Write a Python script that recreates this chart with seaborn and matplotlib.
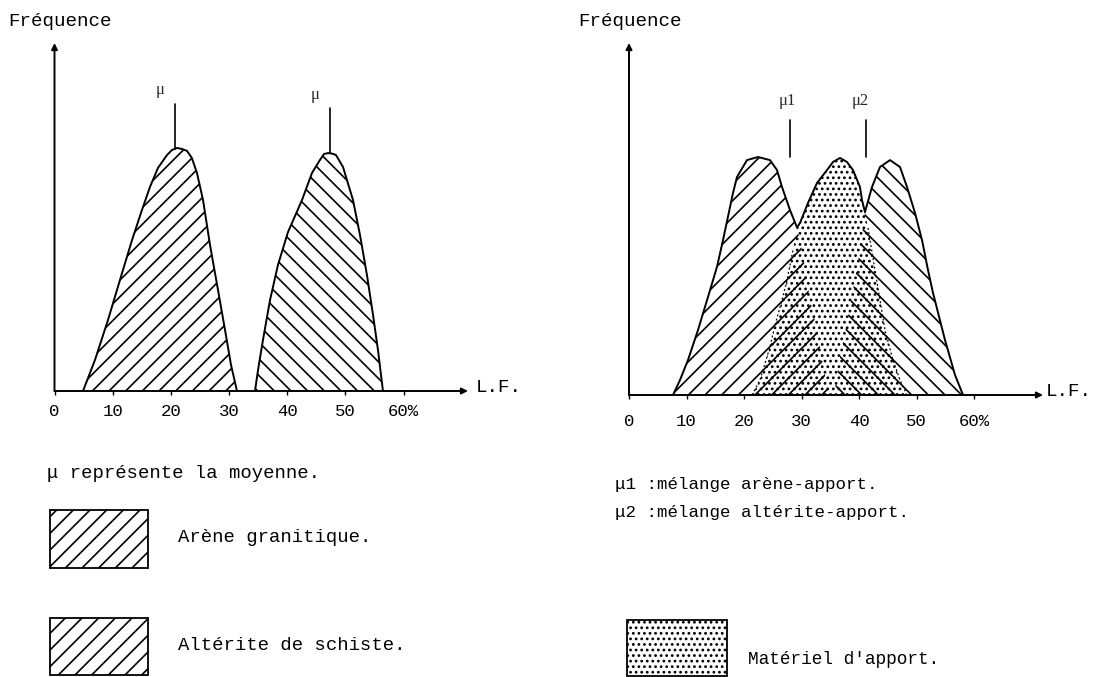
import numpy as np
import matplotlib
matplotlib.use("Agg")
import matplotlib.pyplot as plt
from matplotlib.patches import Rectangle
import seaborn as sns

# ---------------------------------------------------------------------------
# Left diagram: two distinct populations (L.F. in %, relative frequency)
# ---------------------------------------------------------------------------
arene_lf = [4.9, 6.96, 9.19, 11.25, 13.32, 15.03, 16.41, 17.78, 19.33, 20.2,
            21.05, 21.9, 22.77, 23.6, 24.48, 25.52, 26.72, 28.09, 29.30,
            30.33, 31.36]
arene_freq = [0, 12.8, 29.2, 45.7, 62.1, 74.5, 84.0, 91.8, 97.1, 99.2,
              100.0, 99.6, 98.8, 95.9, 89.7, 78.6, 60.1, 41.6, 25.1,
              10.7, 0]

schiste_lf = [34.45, 34.97, 35.82, 37.03, 38.40, 40.12, 42.53, 44.24, 45.62,
              46.3, 46.99, 47.7, 48.37, 49.57, 51.29, 52.49, 53.69, 54.73,
              55.58, 56.10, 56.44]
schiste_freq = [0, 8.6, 21.0, 37.4, 51.9, 65.4, 78.6, 89.7, 95.1,
                97.5, 97.9, 97.7, 97.1, 92.2, 78.6, 64.2, 47.7, 31.3,
                16.9, 6.6, 0]

# means marked above each curve
mu_left = [20.7, 47.3]

# ---------------------------------------------------------------------------
# Right diagram: both populations plus the imported material in between
# ---------------------------------------------------------------------------
arene2_lf = [7.65, 8.87, 10.26, 12.0, 13.74, 15.3, 16.35, 18.09, 18.78, 20.52,
             22.43, 24.52, 25.74, 26.61, 28.0, 29.22, 30.26, 31.48, 32.7,
             33.57, 34.43, 34.96]
arene2_freq = [0, 6.3, 14.7, 27.3, 41.2, 53.8, 65.1, 84.9, 91.6, 98.7,
               100.0, 98.7, 94.5, 87.4, 77.7, 70.4, 58.8, 39.9, 27.3,
               14.7, 4.2, 0]

schiste2_lf = [35.65, 36.7, 37.9, 38.96, 40.17, 41.04, 42.26, 43.65, 45.39,
               47.13, 48.35, 49.74, 50.96, 52.0, 52.87, 54.96, 56.7, 58.09]
schiste2_freq = [0, 16.0, 30.3, 44.1, 60.9, 76.9, 87.4, 95.8, 98.7,
                 95.8, 87.4, 76.5, 65.1, 52.5, 42.9, 23.1, 8.4, 0]

apport_lf = [21.39, 22.78, 24.52, 25.39, 26.61, 27.48, 28.52, 29.22, 29.74,
             31.13, 32.7, 34.43, 35.48, 36.7, 37.91, 38.96, 40.17, 40.52,
             41.04, 41.57, 42.78, 43.65, 44.52, 45.91, 47.13, 48.35]
apport_freq = [0, 6.3, 20.2, 29.4, 39.9, 48.3, 60.9, 70.4, 72.3,
               80.7, 89.1, 94.5, 97.9, 99.6, 97.9, 94.5, 87.4, 81.9,
               76.9, 70.2, 52.5, 39.9, 27.3, 14.7, 6.3, 0]

# mixture means
mu_right = [28.0, 41.2]

tick_values = [0, 10, 20, 30, 40, 50, 60]
tick_labels = ["0", "10", "20", "30", "40", "50", "60%"]

# ---------------------------------------------------------------------------
sns.set_theme(style="white")
plt.rcParams["font.family"] = ["Liberation Mono", "DejaVu Sans"]
plt.rcParams["hatch.linewidth"] = 1.2
plt.rcParams["hatch.color"] = "black"

W, H = 1093, 677
fig = plt.figure(figsize=(W / 100, H / 100), dpi=100)
fig.patch.set_facecolor("white")


def px_rect(x0, y0, x1, y1):
    """Pixel box (top-left origin) -> figure-fraction rect."""
    return [x0 / W, 1 - y1 / H, (x1 - x0) / W, (y1 - y0) / H]


def ftext(x, y, s, **kw):
    kw.setdefault("va", "center")
    kw.setdefault("ha", "left")
    kw.setdefault("color", "black")
    fig.text(x / W, 1 - y / H, s, **kw)


def setup_axes(ax, xmax, ymax, pad):
    ax.set_xlim(0, xmax)
    ax.set_ylim(0, ymax)
    ax.patch.set_alpha(0)
    for s in ax.spines.values():
        s.set_visible(False)
    ax.set_yticks([])
    ax.set_xticks(tick_values, tick_labels)
    ax.tick_params(axis="x", length=3, width=1.0, color="black", pad=pad,
                   labelsize=12.5, labelcolor="black", bottom=True)
    arrow = dict(arrowstyle="-|>", lw=1.4, color="black", mutation_scale=9,
                 shrinkA=0, shrinkB=0)
    ax.annotate("", xy=(xmax, 0), xytext=(0, 0), arrowprops=arrow,
                annotation_clip=False)
    ax.annotate("", xy=(0, ymax), xytext=(0, 0), arrowprops=arrow,
                annotation_clip=False)


def hatched(ax, x, y, pattern):
    ax.fill_between(x, 0, y, facecolor="none", edgecolor="black",
                    hatch=pattern, linewidth=0)


# ---------------------------- left diagram ---------------------------------
axL = fig.add_axes(px_rect(54.5, 43, 468, 391))
setup_axes(axL, 71.05, 143.2, pad=6)

hatched(axL, arene_lf, arene_freq, "//")
hatched(axL, schiste_lf, schiste_freq, "\\\\")
sns.lineplot(x=arene_lf, y=arene_freq, ax=axL, color="black", lw=1.4,
             sort=False, estimator=None)
sns.lineplot(x=schiste_lf, y=schiste_freq, ax=axL, color="black", lw=1.4,
             sort=False, estimator=None)

for m, xs, ys in [(mu_left[0], arene_lf, arene_freq),
                  (mu_left[1], schiste_lf, schiste_freq)]:
    top = np.interp(m, xs, ys)
    axL.plot([m, m], [top, top + 18.5], color="black", lw=1.2)
    axL.text(m - 2.5, top + 24, "μ", ha="center", va="center", fontsize=12,
             family=["Liberation Serif", "DejaVu Serif"])

# ---------------------------- right diagram --------------------------------
axR = fig.add_axes(px_rect(629, 43, 1043, 395))
setup_axes(axR, 72.0, 147.9, pad=11)

hatched(axR, arene2_lf, arene2_freq, "//")
hatched(axR, schiste2_lf, schiste2_freq, "\\\\")
hatched(axR, apport_lf, apport_freq, "...")

a_x, a_y = np.array(arene2_lf), np.array(arene2_freq)
s_x, s_y = np.array(schiste2_lf), np.array(schiste2_freq)
p_x, p_y = np.array(apport_lf), np.array(apport_freq)

# outlines are only drawn where a curve lies on top of the others
tol = 0.6
a_vis = a_y >= np.interp(a_x, p_x, p_y, left=0, right=0) - tol
s_vis = s_y >= np.interp(s_x, p_x, p_y, left=0, right=0) - tol
p_vis = p_y >= np.maximum(np.interp(p_x, a_x, a_y, left=0, right=0),
                          np.interp(p_x, s_x, s_y, left=0, right=0)) - tol

axR.plot(a_x, np.where(a_vis, a_y, np.nan), color="black", lw=1.4)
axR.plot(s_x, np.where(s_vis, s_y, np.nan), color="black", lw=1.4)
axR.plot(p_x, np.where(p_vis, p_y, np.nan), color="black", lw=1.4)
axR.plot(p_x, np.where(p_vis, np.nan, p_y), color="black", lw=0.9,
         ls=(0, (1.5, 2)))

for m, lab, dx in [(mu_right[0], "μ1", -0.4), (mu_right[1], "μ2", -1.0)]:
    axR.plot([m, m], [100, 115.5], color="black", lw=1.2)
    axR.text(m + dx, 123.5, lab, ha="center", va="center", fontsize=12,
             family=["Liberation Serif", "DejaVu Serif"])

# ---------------------------- labels ---------------------------------------
ftext(8, 22, "Fréquence", fontsize=13.8)
ftext(578, 22, "Fréquence", fontsize=13.8)
ftext(476, 388, "L.F.", fontsize=13.8)
ftext(1046, 392, "L.F.", fontsize=13.8)

ftext(47, 473, "μ représente la moyenne.", fontsize=13.6)
ftext(178, 538, "Arène granitique.", fontsize=13.6)
ftext(178, 645, "Altérite de schiste.", fontsize=13.6)

ftext(615, 485, "μ1 :mélange arène-apport.", fontsize=12.6)
ftext(615, 512, "μ2 :mélange altérite-apport.", fontsize=12.6)
ftext(748, 660, "Matériel d'apport.", fontsize=12.8)

# legend swatches
for (x0, y0, x1, y1), pat in [((50, 510, 148, 568), "//"),
                              ((50, 618, 148, 675), "//"),
                              ((627, 620, 727, 676), "...")]:
    fig.add_artist(Rectangle((x0 / W, 1 - y1 / H), (x1 - x0) / W,
                             (y1 - y0) / H, transform=fig.transFigure,
                             fill=False, hatch=pat, lw=1.3,
                             edgecolor="black"))

fig.savefig("out.png", dpi=100, facecolor="white")
